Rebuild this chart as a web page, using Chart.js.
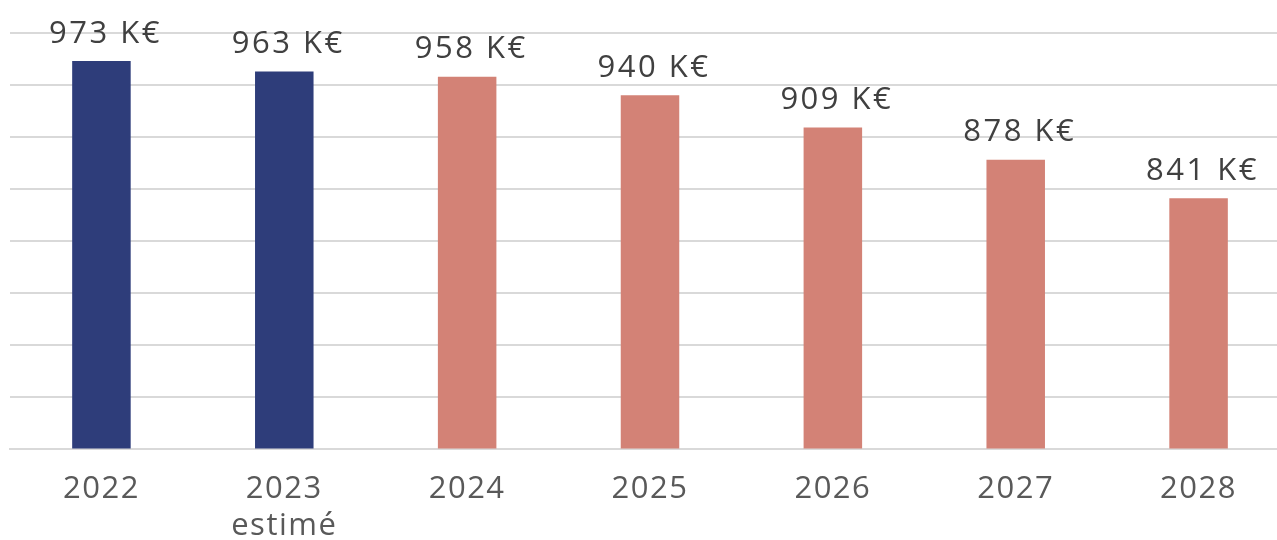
<!DOCTYPE html>
<html>
<head>
<meta charset="utf-8">
<script src="https://cdn.jsdelivr.net/npm/chart.js@4"></script>
<style>
  html, body { margin: 0; padding: 0; overflow: hidden; background: #ffffff; }
  #wrap { position: relative; width: 1290px; height: 567px; }
</style>
</head>
<body>
<div id="wrap"><canvas id="c"></canvas></div>
<script>
const categories = [['2022'], ['2023', 'estimé'], ['2024'], ['2025'], ['2026'], ['2027'], ['2028']];
const values = [973, 963, 958, 940, 909, 878, 841];
const valueLabels = ['973 K€', '963 K€', '958 K€', '940 K€', '909 K€', '878 K€', '841 K€'];
const barColors = ['#2E3D7A', '#2E3D7A', '#D38276', '#D38276', '#D38276', '#D38276', '#D38276'];
const yMin = 600, yMax = 1000, yStep = 50;

const FONT = "'Open Sans', sans-serif";

const spacingPlugin = {
  id: 'spacing',
  beforeDraw(chart) { chart.ctx.letterSpacing = '1.5px'; },
  afterDraw(chart) { chart.ctx.letterSpacing = '0px'; }
};

const valueLabelPlugin = {
  id: 'valueLabels',
  afterDatasetsDraw(chart) {
    const ctx = chart.ctx;
    const meta = chart.getDatasetMeta(0);
    ctx.save();
    ctx.letterSpacing = '2.5px';
    ctx.font = '31px ' + FONT;
    ctx.fillStyle = '#404040';
    ctx.textAlign = 'center';
    ctx.textBaseline = 'alphabetic';
    meta.data.forEach((bar, i) => {
      ctx.fillText(valueLabels[i], bar.x + 4, bar.y - 18.5);
    });
    ctx.restore();
  }
};

new Chart(document.getElementById('c'), {
  type: 'bar',
  data: {
    labels: categories,
    datasets: [{
      data: values,
      backgroundColor: barColors,
      borderWidth: 0,
      barPercentage: 0.32,
      categoryPercentage: 1.0
    }]
  },
  options: {
    responsive: true,
    maintainAspectRatio: false,
    animation: false,
    layout: { padding: { left: 10, right: 0, top: 33, bottom: 0 } },
    plugins: { legend: { display: false }, tooltip: { enabled: false } },
    scales: {
      x: {
        grid: { display: false, drawTicks: false },
        border: { display: true, color: '#d9d9d9', width: 2 },
        ticks: {
          color: '#595959',
          font: { family: FONT, size: 31, lineHeight: 1.2 },
          padding: 22,
          maxRotation: 0,
          autoSkip: false
        }
      },
      y: {
        min: yMin,
        max: yMax,
        display: true,
        border: { display: false },
        grid: { color: '#d9d9d9', lineWidth: 2, drawTicks: false },
        ticks: { display: false, stepSize: yStep }
      }
    }
  },
  plugins: [spacingPlugin, valueLabelPlugin]
});
</script>
</body>
</html>
